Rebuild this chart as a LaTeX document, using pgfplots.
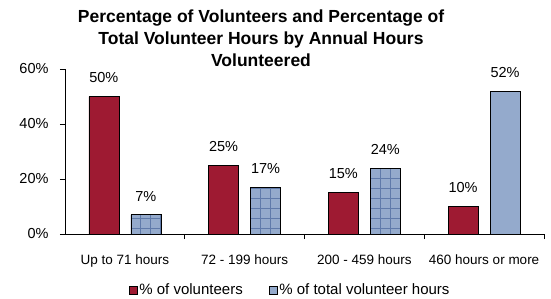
\documentclass[border=0pt]{standalone}
\usepackage{pgfplots}
\pgfplotsset{compat=1.18}
\usepackage{fontspec}
\setmainfont{Liberation Sans}
\usetikzlibrary{patterns.meta}
\definecolor{vred}{RGB}{158,26,50}
\definecolor{vblue}{RGB}{148,170,204}
\definecolor{vgrid}{RGB}{95,122,170}
\begin{document}
\begin{tikzpicture}[x=1pt,y=1pt]
\path[use as bounding box] (-65,-64) rectangle (486,234);
\begin{axis}[
  at={(0,0)}, anchor=south west,
  scale only axis, width=479pt, height=165pt,
  ymin=0, ymax=60, xmin=-0.5, xmax=3.5,
  axis x line*=bottom, axis y line*=left,
  ytick={0,20,40,60},
  yticklabel={\pgfmathprintnumber{\tick}\%},
  /pgf/number format/assume math mode=true,
  xtick={0,1,2,3},
  xticklabels={Up to 71 hours,72 - 199 hours,200 - 459 hours,460 hours or more},
  minor xtick={0.5,1.5,2.5,3.5},
  tick align=outside,
  major tick length=5pt, minor tick length=5pt,
  x tick style={draw=none},
  minor x tick style={draw=black, line width=0.8pt},
  y tick style={draw=black, line width=0.8pt},
  axis line style={line width=0.8pt},
  xticklabel style={font=\fontsize{13.5}{16}\selectfont, yshift=-12pt},
  yticklabel style={font=\fontsize{14.5}{16}\selectfont, xshift=-8pt},
  ybar, bar width=30pt,
  nodes near coords={\pgfmathprintnumber{\pgfplotspointmeta}\%},
  every node near coord/.append style={font=\fontsize{14.5}{16}\selectfont, yshift=10pt},
  legend style={draw=none, at={(0.47,-0.34)}, anchor=center, legend columns=2,
    font=\fontsize{15}{18}\selectfont, /tikz/every even column/.append style={column sep=24pt}},
  legend image code/.code={\draw[#1, line width=0.6pt] (0pt,-4pt) rectangle (8pt,4pt);},
  clip=false,
]
\addplot[fill=vred, draw=black, line width=0.6pt, bar shift=-21pt] coordinates {(0,50) (1,25) (2,15) (3,10)};
\addlegendentry{\% of volunteers}
\addplot[fill=vblue, draw=black, line width=0.6pt, bar shift=21pt] coordinates {(0,7) (1,17) (2,24) (3,52)};
\addlegendentry{\% of total volunteer hours}
\addplot[forget plot, draw=black, line width=0.6pt, bar shift=21pt, nodes near coords={},
  pattern={Hatch[angle=0, distance=10pt, line width=0.6pt]}, pattern color=vgrid] coordinates {(0,7) (1,17) (2,24)};
\end{axis}
\node[font=\fontsize{17.5}{22}\selectfont\bfseries, align=center] at (196,196)
  {Percentage of Volunteers and Percentage of\\Total Volunteer Hours by Annual Hours\\Volunteered};
\end{tikzpicture}
\end{document}
